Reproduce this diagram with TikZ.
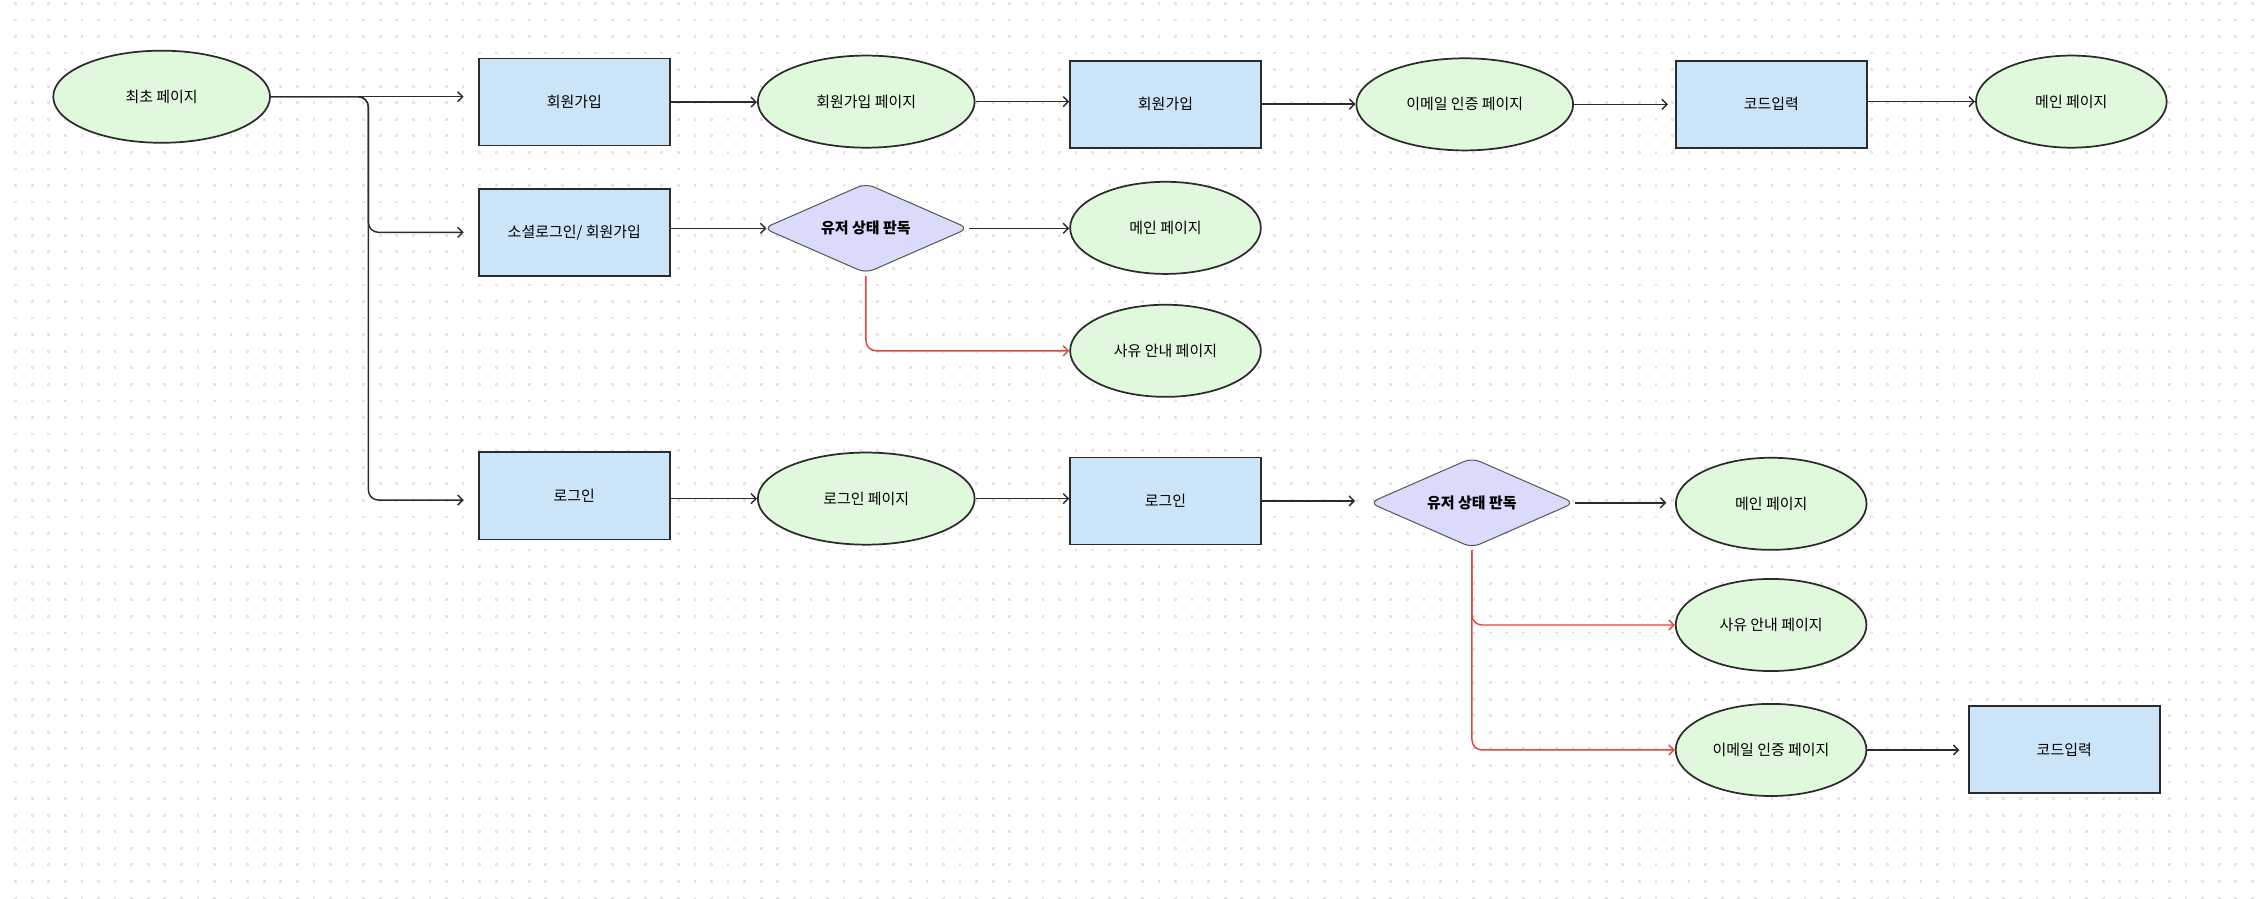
\documentclass[tikz,border=0pt]{standalone}
\usepackage{fontspec}
\setmainfont{Noto Sans CJK KR}
\usetikzlibrary{shapes.geometric,arrows.meta}

\definecolor{verde}{HTML}{E0F9DC}
\definecolor{azul}{HTML}{CCE4F8}
\definecolor{lila}{HTML}{DADAFA}
\definecolor{trazo}{HTML}{2B2B2B}
\definecolor{gris}{HTML}{555555}
\definecolor{rojo}{HTML}{E0473C}
\definecolor{punto}{HTML}{E4E4E4}

\begin{document}
\begin{tikzpicture}[x=1pt,y=-1pt,
	texto/.style={font=\fontsize{10.4}{12}\selectfont,inner sep=0pt},
	pagina/.style={texto,ellipse,draw=trazo,line width=1.2pt,fill=verde,minimum width=150.6pt,minimum height=64pt},
	paginacorta/.style={pagina,minimum width=132.5pt},
	accion/.style={texto,rectangle,draw=trazo,line width=1.2pt,fill=azul,minimum width=132.5pt,minimum height=60.5pt},
	decision/.style={texto,font=\fontsize{10.4}{12}\selectfont\bfseries,diamond,aspect=2.3,draw=gris,line width=0.7pt,fill=lila,rounded corners=6pt,minimum width=142.5pt,minimum height=62.5pt},
	flecha/.style={draw=trazo,line width=1pt,-{Straight Barb[length=3.5pt,width=7pt]},rounded corners=7pt},
	flecharoja/.style={flecha,draw=rojo,shorten <=1.5pt},
	puntos/.style={draw=punto,line width=1.9pt,dash pattern=on 1.9pt off 9.61pt}]
  \path[use as bounding box] (0,0) rectangle (1568,623.9);

	% Fondo
	\foreach \j in {0,...,54}
		\draw[puntos] (9.95,{2.3+\j*11.51}) -- (1568,{2.3+\j*11.51});

	% Registro
	\node[pagina] (start) at (112.3,67.2) {최초 페이지};
	\node[accion] (su1) at (399,70.9) {회원가입};
	\node[pagina] (supage) at (601.8,70.6) {회원가입 페이지};
	\node[accion] (su2) at (809.7,72.4) {회원가입};
	\node[pagina] (mail1) at (1017.6,72.5) {이메일 인증 페이지};
	\node[accion] (code1) at (1230.6,72.4) {코드입력};
	\node[paginacorta] (main1) at (1439,70.6) {메인 페이지};

	% Social
	\node[accion] (social) at (399,161.4) {소셜로그인/ 회원가입};
	\node[decision] (judge1) at (601.6,158.6) {유저 상태 판독};
	\node[paginacorta] (main2) at (809.7,158.3) {메인 페이지};
	\node[paginacorta] (reason1) at (809.7,243.7) {사유 안내 페이지};

	% Login
	\node[accion] (login1) at (399,344.5) {로그인};
	\node[pagina] (loginpage) at (601.8,346.4) {로그인 페이지};
	\node[accion] (login2) at (809.7,348) {로그인};
	\node[decision] (judge2) at (1022.6,349.3) {유저 상태 판독};
	\node[paginacorta] (main3) at (1230.5,350) {메인 페이지};
	\node[paginacorta] (reason2) at (1230.4,434.2) {사유 안내 페이지};
	\node[paginacorta] (mail2) at (1230.4,521) {이메일 인증 페이지};
	\node[accion] (code2) at (1434.1,520.8) {코드입력};

	% Flechas
	\coordinate (split) at (255.9,67.2);
	\draw[flecha,shorten >=10pt] (start.east) -- (start.east -| su1.west);
	\draw[flecha,shorten >=10pt] (start.east) -- (split) |- (social.west);
	\draw[flecha,shorten >=10pt] (start.east) -- (split) |- ([yshift=-2.9pt]login1.west);
	\draw[flecha] (su1.east) -- (su1.east -| supage.west);
	\draw[flecha] (supage.east) -- (supage.east -| su2.west);
	\draw[flecha] (su2.east) -- (su2.east -| mail1.west);
	\draw[flecha,shorten >=5pt] (mail1.east) -- (mail1.east -| code1.west);
	\draw[flecha] (code1.east |- main1.west) -- (main1.west);

	\draw[flecha,shorten >=-2.5pt] (social.east |- judge1.west) -- (judge1.west);
	\draw[flecha] (judge1.east) -- (judge1.east -| main2.west);
	\draw[flecharoja] (judge1.south) |- (reason1.west);

	\draw[flecha] (login1.east |- loginpage.west) -- (loginpage.west);
	\draw[flecha] (loginpage.east) -- (loginpage.east -| login2.west);
	\draw[flecha,shorten >=9.6pt] (login2.east) -- (login2.east -| judge2.west);
	\draw[flecha,shorten >=6pt] (judge2.east) -- (judge2.east -| main3.west);
	\draw[flecharoja] (judge2.south) |- (reason2.west);
	\draw[flecharoja] (judge2.south) |- (mail2.west);
	\draw[flecha,shorten >=6pt] (mail2.east) -- (mail2.east -| code2.west);
\end{tikzpicture}
\end{document}
